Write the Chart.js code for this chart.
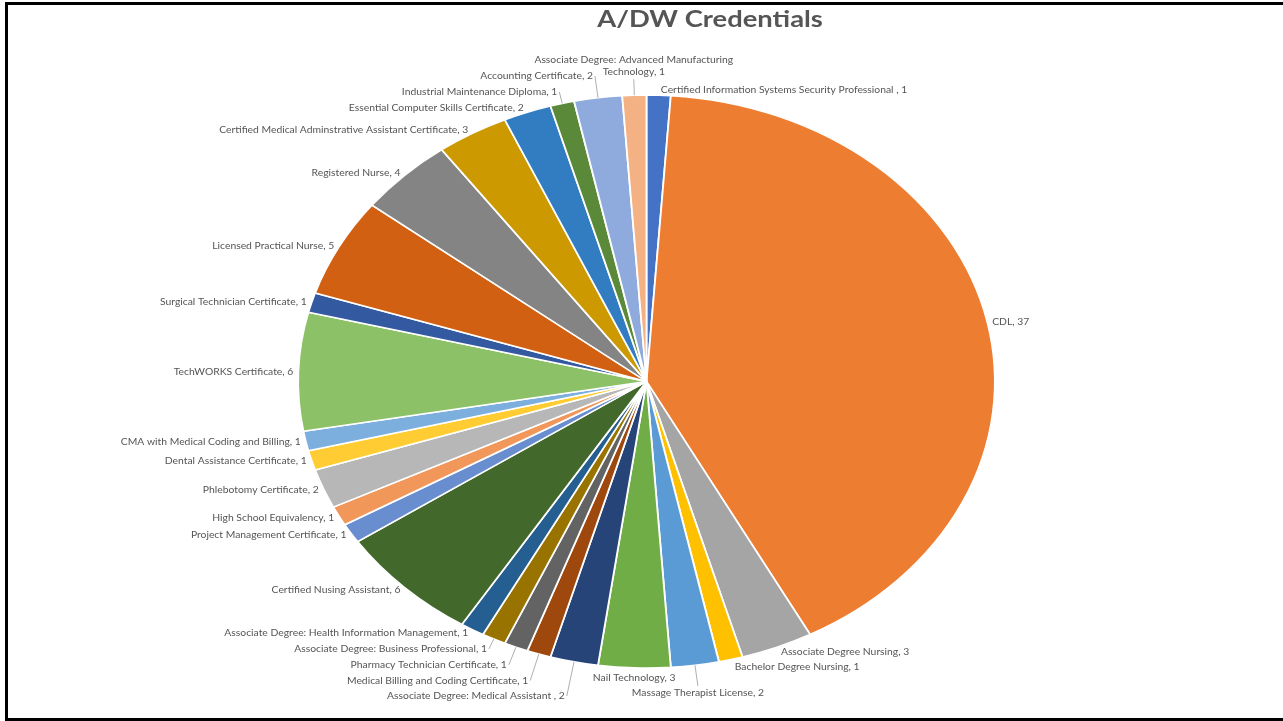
<!DOCTYPE html>
<html>
<head>
<meta charset="utf-8">
<title>A/DW Credentials</title>
<script src="https://cdn.jsdelivr.net/npm/chart.js@4.4.1/dist/chart.umd.min.js"></script>
<style>
  html, body { margin: 0; padding: 0; background: #fff; }
  .chart-shell { position: relative; width: 1283px; height: 721px; overflow: hidden; }
  .chart-shell canvas { position: absolute; left: 0; top: 0; }
  .frame {
    position: absolute; left: 5px; top: 2px; right: -10px; bottom: 0;
    border-top: 3px solid #000; border-left: 3px solid #000; border-bottom: 3px solid #000;
    pointer-events: none;
  }
</style>
</head>
<body>
<div class="chart-shell">
  <canvas id="credentialsChart" width="1283" height="721"></canvas>
  <div class="frame"></div>
</div>
<script>
(function () {
  const credentials = [
    'Certified Information Systems Security Professional ',
    'CDL',
    'Associate Degree Nursing',
    'Bachelor Degree Nursing',
    'Massage Therapist License',
    'Nail Technology',
    'Associate Degree: Medical Assistant ',
    'Medical Billing and Coding Certificate',
    'Pharmacy Technician Certificate',
    'Associate Degree: Business Professional',
    'Associate Degree: Health Information Management',
    'Certified Nusing Assistant',
    'Project Management Certificate',
    'High School Equivalency',
    'Phlebotomy Certificate',
    'Dental Assistance Certificate',
    'CMA with Medical Coding and Billing',
    'TechWORKS Certificate',
    'Surgical Technician Certificate',
    'Licensed Practical Nurse',
    'Registered Nurse',
    'Certified Medical Adminstrative Assistant Certificate',
    'Essential Computer Skills Certificate',
    'Industrial Maintenance Diploma',
    'Accounting Certificate',
    'Associate Degree: Advanced Manufacturing Technology'
  ];
  const counts = [1, 37, 3, 1, 2, 3, 2, 1, 1, 1, 1, 6, 1, 1, 2, 1, 1, 6, 1, 5, 4, 3, 2, 1, 2, 1];

  const sliceColors = [
    '#4472c4', '#ed7d31', '#a5a5a5', '#ffc000', '#5b9bd5', '#70ad47',
    '#264478', '#9e480e', '#636363', '#997300', '#255e91', '#43682b',
    '#698ed0', '#f1975a', '#b7b7b7', '#ffcd33', '#7cafdd', '#8cc168',
    '#335aa1', '#d26012', '#848484', '#cc9a00', '#327dc2', '#5a8a39',
    '#8faadc', '#f4b183'
  ];

  const titleText = 'A/DW Credentials';

  // the source picture is stretched sideways, so the pie is an ellipse
  const STRETCH = 1.216;
  const TEXT_COLOR = '#555555';
  const LEADER_COLOR = '#a6a6a6';
  const LABEL_FONT = '9px Lato';
  const LABEL_STRETCH = 1.15;
  const TITLE_FONT = 'bold 22.5px Lato';
  const LINE_H = 12;
  const PAD = 3;
  const GAP = 2;
  const MIN_D = 3;
  const WRAP_W = 230;

  const wrapText = (ctx, text, maxW) => {
    const words = text.split(' ');
    const lines = [];
    let cur = '';
    words.forEach((w) => {
      const next = cur ? cur + ' ' + w : w;
      if (cur && ctx.measureText(next).width * LABEL_STRETCH > maxW) {
        lines.push(cur);
        cur = w;
      } else {
        cur = next;
      }
    });
    lines.push(cur);
    return lines;
  };

  const ellipsePlugin = {
    id: 'ellipse',
    beforeDatasetsDraw(chart) {
      const arc = chart.getDatasetMeta(0).data[0];
      const ctx = chart.ctx;
      ctx.save();
      ctx.translate(arc.x, arc.y);
      ctx.scale(STRETCH, 1);
      ctx.translate(-arc.x, -arc.y);
    },
    afterDatasetsDraw(chart) {
      chart.ctx.restore();
    }
  };

  const labelPlugin = {
    id: 'sliceLabels',
    afterDraw(chart) {
      const ctx = chart.ctx;
      const arcs = chart.getDatasetMeta(0).data;
      const cx = arcs[0].x;
      const cy = arcs[0].y;
      const ry = arcs[0].outerRadius;
      const rx = ry * STRETCH;
      const W = chart.width;
      const H = chart.height;

      // title
      ctx.save();
      ctx.font = TITLE_FONT;
      const titleW = ctx.measureText(titleText).width * STRETCH;
      const titleX = 710;
      const titleBase = 27;
      ctx.fillStyle = TEXT_COLOR;
      ctx.translate(titleX - titleW / 2, titleBase);
      ctx.scale(STRETCH, 1);
      ctx.fillText(titleText, 0, 0);
      ctx.restore();

      const placed = [{ x0: titleX - titleW / 2, x1: titleX + titleW / 2, y0: 8, y1: 30 }];

      ctx.save();
      ctx.font = LABEL_FONT;
      const inside = (x, y) => ((x - cx) / rx) ** 2 + ((y - cy) / ry) ** 2 < 1;

      const items = arcs.map((arc, i) => {
        const mid = (arc.startAngle + arc.endAngle) / 2;
        let fromTop = ((mid + Math.PI / 2) * 180 / Math.PI) % 360;
        if (fromTop < 0) fromTop += 360;
        let side;
        if (fromTop >= 354) side = 'top';
        else if (Math.abs(fromTop - 180) < 9) side = 'bottom';
        else side = fromTop < 180 ? 'right' : 'left';
        const text = credentials[i] + ', ' + counts[i];
        const lines = (side === 'top' || side === 'bottom') ? wrapText(ctx, text, WRAP_W) : [text];
        return {
          i, side, lines,
          widths: lines.map((l) => ctx.measureText(l).width * LABEL_STRETCH),
          ux: Math.cos(mid),
          uy: Math.sin(mid)
        };
      });

      const boxesAt = (it, px, py) => {
        const h = it.lines.length * LINE_H;
        let top;
        if (it.side === 'top') top = py - h - 1;
        else if (it.side === 'bottom') top = py + 1;
        else top = py - h / 2;
        return it.lines.map((l, k) => {
          const w = it.widths[k];
          let x0;
          if (it.side === 'right') x0 = px + GAP;
          else if (it.side === 'left') x0 = px - GAP - w;
          else x0 = px - w / 2;
          return { x0, x1: x0 + w, y0: top + k * LINE_H, y1: top + (k + 1) * LINE_H };
        });
      };

      const hits = (b) => {
        if (b.x0 < 10 || b.x1 > W - 4 || b.y0 < 6 || b.y1 > H - 5) return true;
        for (const o of placed) {
          if (b.x0 < o.x1 + PAD && b.x1 + PAD > o.x0 && b.y0 < o.y1 + PAD && b.y1 + PAD > o.y0) return true;
        }
        const ys = [b.y0 + 1, (b.y0 + b.y1) / 2, b.y1 - 1];
        for (let x = b.x0; x <= b.x1 + 0.1; x += Math.max((b.x1 - b.x0) / 8, 1)) {
          for (const y of ys) if (inside(x, y)) return true;
        }
        return false;
      };

      // labels under the pie go first (nearest the bottom first), then the rest
      // from the horizontal axis outwards
      const sortKey = (it) => it.side === 'bottom'
        ? -2 + Math.abs(it.ux)
        : Math.round(Math.abs(it.uy) * 1e6) / 1e6;
      const order = items.slice().sort((a, b) => (sortKey(a) - sortKey(b)) || (b.i - a.i));

      order.forEach((it) => {
        let found = null;
        for (let d = MIN_D; d < 260; d += 1) {
          const px = cx + (rx + d) * it.ux;
          const py = cy + (ry + d) * it.uy;
          const boxes = boxesAt(it, px, py);
          if (!boxes.some(hits)) {
            found = { d, px, py, boxes };
            break;
          }
        }
        if (!found) {
          const px = cx + (rx + MIN_D) * it.ux;
          const py = cy + (ry + MIN_D) * it.uy;
          found = { d: MIN_D, px, py, boxes: boxesAt(it, px, py) };
        }
        Object.assign(it, found);
        placed.push(...found.boxes);
      });

      ctx.strokeStyle = LEADER_COLOR;
      ctx.lineWidth = 0.9;
      items.forEach((it) => {
        if (it.d > 9) {
          ctx.beginPath();
          ctx.moveTo(cx + rx * it.ux, cy + ry * it.uy);
          ctx.lineTo(it.px, it.py);
          ctx.stroke();
        }
      });

      ctx.fillStyle = TEXT_COLOR;
      items.forEach((it) => {
        it.lines.forEach((line, k) => {
          const b = it.boxes[k];
          ctx.save();
          ctx.translate(b.x0, (b.y0 + b.y1) / 2 + 3.2);
          ctx.scale(LABEL_STRETCH, 1);
          ctx.fillText(line, 0, 0);
          ctx.restore();
        });
      });
      ctx.restore();
    }
  };

  document.fonts.load(LABEL_FONT).then(() => document.fonts.load(TITLE_FONT)).finally(() => {
    const canvas = document.getElementById('credentialsChart');
    new Chart(canvas, {
      type: 'pie',
      data: {
        labels: credentials,
        datasets: [{
          data: counts,
          backgroundColor: sliceColors,
          borderColor: '#ffffff',
          borderWidth: 1.5,
          hoverOffset: 0,
          clip: false
        }]
      },
      options: {
        responsive: false,
        animation: false,
        radius: 286.5,
        events: [],
        layout: { padding: { top: 95, bottom: 53, left: 246, right: 236 } },
        plugins: {
          legend: { display: false },
          title: { display: false },
          tooltip: { enabled: false }
        }
      },
      plugins: [ellipsePlugin, labelPlugin]
    });
  });
})();
</script>
</body>
</html>
